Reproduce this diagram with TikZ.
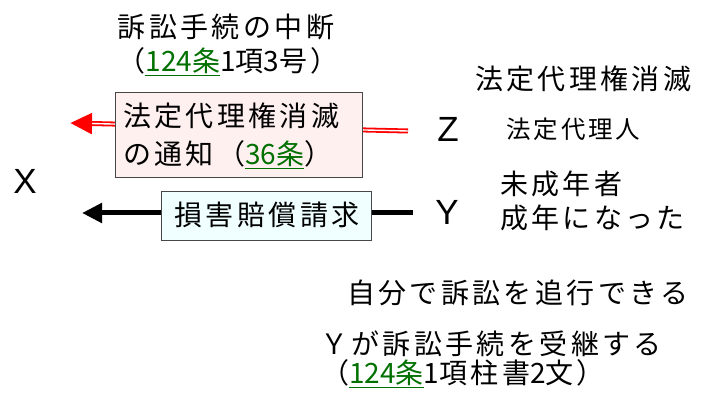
\documentclass[tikz,border=0pt]{standalone}
\usepackage{fontspec}
\setmainfont{Noto Sans CJK JP}[LetterSpace=12]
\newfontfamily\jpn{Noto Sans CJK JP}
\newfontfamily\latinfont{Liberation Sans}
\usetikzlibrary{arrows.meta}
\definecolor{lawgreen}{RGB}{0,112,0}
\definecolor{pinkfill}{RGB}{255,240,240}
\definecolor{cyanfill}{RGB}{240,255,255}
\definecolor{boxline}{RGB}{70,70,70}
\newcommand{\lawref}[2]{\textcolor{lawgreen}{\underline{{\jpn #1}#2}}}
\newcommand{\nm}[1]{{\jpn #1}}
\begin{document}
\begin{tikzpicture}[x=1pt,y=-1pt,
  jp/.style={inner sep=0pt, font=\fontsize{28}{34}\selectfont, text height=22pt, text depth=3pt},
  jpsmall/.style={inner sep=0pt, font=\fontsize{24.5}{30}\selectfont, text height=19.3pt, text depth=2.6pt},
  xyz/.style={inner sep=0pt, font=\latinfont\fontsize{35}{40}\selectfont, text height=25.2pt, text depth=0pt},
  notebox/.style={draw=boxline, line width=1pt, fill=pinkfill, minimum width=247pt, minimum height=85pt, inner sep=0pt},
  claimbox/.style={draw=boxline, line width=1pt, fill=cyanfill, minimum width=210pt, minimum height=48pt, inner sep=0pt}]
\useasboundingbox (0,0) rectangle (703,403);

% parties
\node[xyz] (X) at (25,181) {X};
\node[xyz] (Z) at (448,129) {Z};
\node[xyz] (Y) at (447,212) {Y};

% red notice arrow
\coordinate (rs) at (408,131);
\coordinate (rt) at (70,123);
\draw[red, line width=5pt, -{Triangle[length=22pt,width=20pt]}] (rs) -- (rt);
\draw[white, line width=1.4pt, shorten >=22pt] (rs) -- (rt);

% black claim arrow
\coordinate (bs) at (413,213);
\coordinate (bt) at (82,213);
\draw[line width=5pt, -{Triangle[length=20pt,width=19pt]}] (bs) -- (bt);

% boxes
\node[notebox] (nb) at (238.5,135.5) {};
\node[jp, anchor=west] (nb1) at (123,117.5) {法定代理権消滅};
\node[jp, anchor=west] (nb2) at (123,155.5) {の通知（\lawref{36}{条}）};
\node[claimbox] (cb) at (266,216) {};
\node[jp] (cbt) at (267,216) {損害賠償請求};

% top texts
\node[jp] (t1) at (226,28) {訴訟手続の中断};
\node[jp] (t2) at (228,62) {（\lawref{124}{条}\nm{1}項\nm{3}号）};

% right texts
\node[jp, anchor=west] (t3) at (475,80) {法定代理権消滅};
\node[jpsmall, anchor=west] (t4) at (506,130) {法定代理人};
\node[jp, anchor=west] (t5) at (500,185) {未成年者};
\node[jp, anchor=west] (t6) at (500,219.5) {成年になった};

% bottom texts
\node[jp, anchor=west] (t7) at (347,294) {自分で訴訟を追行できる};
\node[jp, anchor=west] (t8) at (320,345) {Ｙが訴訟手続を受継する};
\node[jp, anchor=west] (t9) at (321,374) {（\lawref{124}{条}\nm{1}項柱書\nm{2}文）};
\end{tikzpicture}
\end{document}
